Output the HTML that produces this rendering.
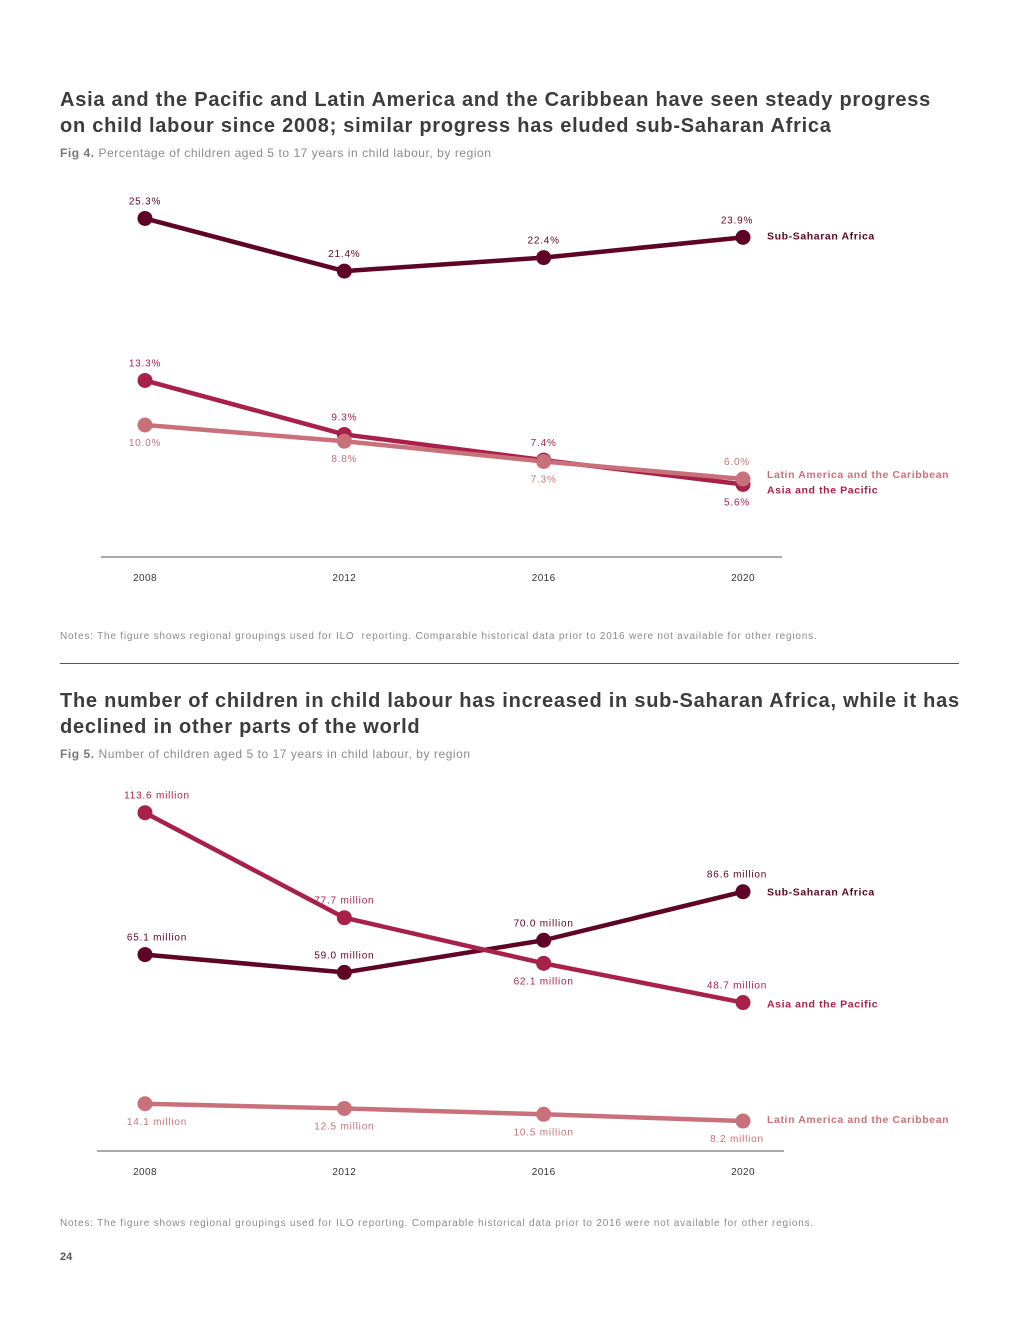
<!DOCTYPE html>
<html><head><meta charset="utf-8"><style>
body{margin:0;background:#fff;font-family:"Liberation Sans",sans-serif;}
.page{position:relative;width:1020px;height:1320px;overflow:hidden;}
.t{position:absolute;left:60px;font-size:20px;font-weight:bold;color:#3c3c3c;line-height:26px;margin:0;letter-spacing:0.75px;white-space:nowrap;}
.s{position:absolute;left:60px;font-size:12px;color:#8a8a8a;letter-spacing:0.55px;}
.s b{color:#777;}
.n{position:absolute;left:60px;font-size:10px;color:#8a8a8a;letter-spacing:0.8px;white-space:nowrap;}
svg{position:absolute;left:0;top:0;}
</style></head><body><div class="page">
<h2 class="t" style="top:87px">Asia and the Pacific and Latin America and the Caribbean have seen steady progress<br>on child labour since 2008; similar progress has eluded sub-Saharan Africa</h2>
<div class="s" style="top:146px"><b>Fig 4.</b> Percentage of children aged 5 to 17 years in child labour, by region</div>
<div class="n" style="top:631px">Notes: The figure shows regional groupings used for ILO&nbsp; reporting. Comparable historical data prior to 2016 were not available for other regions.</div>
<div style="position:absolute;left:60px;top:663px;width:899px;height:1px;background:#555"></div>
<h2 class="t" style="top:688px">The number of children in child labour has increased in sub-Saharan Africa, while it has<br>declined in other parts of the world</h2>
<div class="s" style="top:747px"><b>Fig 5.</b> Number of children aged 5 to 17 years in child labour, by region</div>
<div class="n" style="top:1218px">Notes: The figure shows regional groupings used for ILO reporting. Comparable historical data prior to 2016 were not available for other regions.</div>
<div style="position:absolute;left:60px;top:1251px;font-size:11px;font-weight:bold;color:#555">24</div>
<svg id="c" width="1020" height="1320"></svg>
</div>
<script>
const years=["2008","2012","2016","2020"];
const seriesNames=["Sub-Saharan Africa","Asia and the Pacific","Latin America and the Caribbean"];
const colors=["#5e0424","#a8214a","#c9717a"];
const pctSSA=[25.3,21.4,22.4,23.9];
const pctAP=[13.3,9.3,7.4,5.6];
const pctLAC=[10.0,8.8,7.3,6.0];
const numSSA=[65.1,59.0,70.0,86.6];
const numAP=[113.6,77.7,62.1,48.7];
const numLAC=[14.1,12.5,10.5,8.2];
const svg=document.getElementById('c');
const NS="http://www.w3.org/2000/svg";
function mk(tag,a,name){const e=document.createElementNS(NS,tag);for(const k in a)e.setAttribute(k,a[k]);


svg.appendChild(e);return e;}
function chart(cfg){
 const x=i=>cfg.x0+i*(cfg.x1-cfg.x0)/3;
 const y=v=>cfg.zero-v*cfg.k;
 mk('line',{x1:cfg.ax0,x2:cfg.ax1,y1:cfg.axisY,y2:cfg.axisY,stroke:'#555','stroke-width':1},cfg.id+'-x-axis');
 years.forEach((yr,i)=>{const t=mk('text',{x:x(i),y:cfg.axisY+24,'text-anchor':'middle','font-size':10,fill:'#333','letter-spacing':'0.4'},cfg.id+'-x-tick-'+yr);t.textContent=yr;});
 cfg.series.forEach((s,si)=>{
  const pts=s.vals.map((v,i)=>x(i)+','+y(v)).join(' ');
  mk('polyline',{points:pts,fill:'none',stroke:colors[si],'stroke-width':4.5,'stroke-linejoin':'round'},cfg.id+'-line-'+si);
 });
 cfg.series.forEach((s,si)=>{
  s.vals.forEach((v,i)=>{
   mk('circle',{cx:x(i),cy:y(v),r:7.5,fill:colors[si]},cfg.id+'-point-'+si+'-'+years[i]);
   const up=s.pos[i]>0;
   const t=mk('text',{x:x(i)+(i==3?-6:(cfg.id=='fig5'&&i==0?12:0)),y:up?y(v)-14:y(v)+21,'text-anchor':'middle','font-size':10,fill:colors[si],'letter-spacing':'0.8'},cfg.id+'-value-'+si+'-'+years[i]);
   t.textContent=cfg.fmt(v);
  });
  const l=mk('text',{x:767,y:y(s.vals[3])+s.lo,'font-size':10.5,'font-weight':'bold',fill:colors[si],'letter-spacing':'0.6'},cfg.id+'-legend-'+si);
  l.textContent=seriesNames[si];
 });
}
chart({id:'fig4',x0:145,x1:743,zero:560,k:13.5,axisY:557,ax0:101,ax1:782,fmt:v=>v.toFixed(1)+'%',
 series:[{vals:pctSSA,pos:[1,1,1,1],lo:2},{vals:pctAP,pos:[1,1,1,-1],lo:9},{vals:pctLAC,pos:[-1,-1,-1,1],lo:-1}]});
chart({id:'fig5',x0:145,x1:743,zero:1145,k:2.925,axisY:1151,ax0:97,ax1:784,fmt:v=>v.toFixed(1)+' million',
 series:[{vals:numSSA,pos:[1,1,1,1],lo:4},{vals:numAP,pos:[1,1,-1,1],lo:5},{vals:numLAC,pos:[-1,-1,-1,-1],lo:2}]});
</script></body></html>
